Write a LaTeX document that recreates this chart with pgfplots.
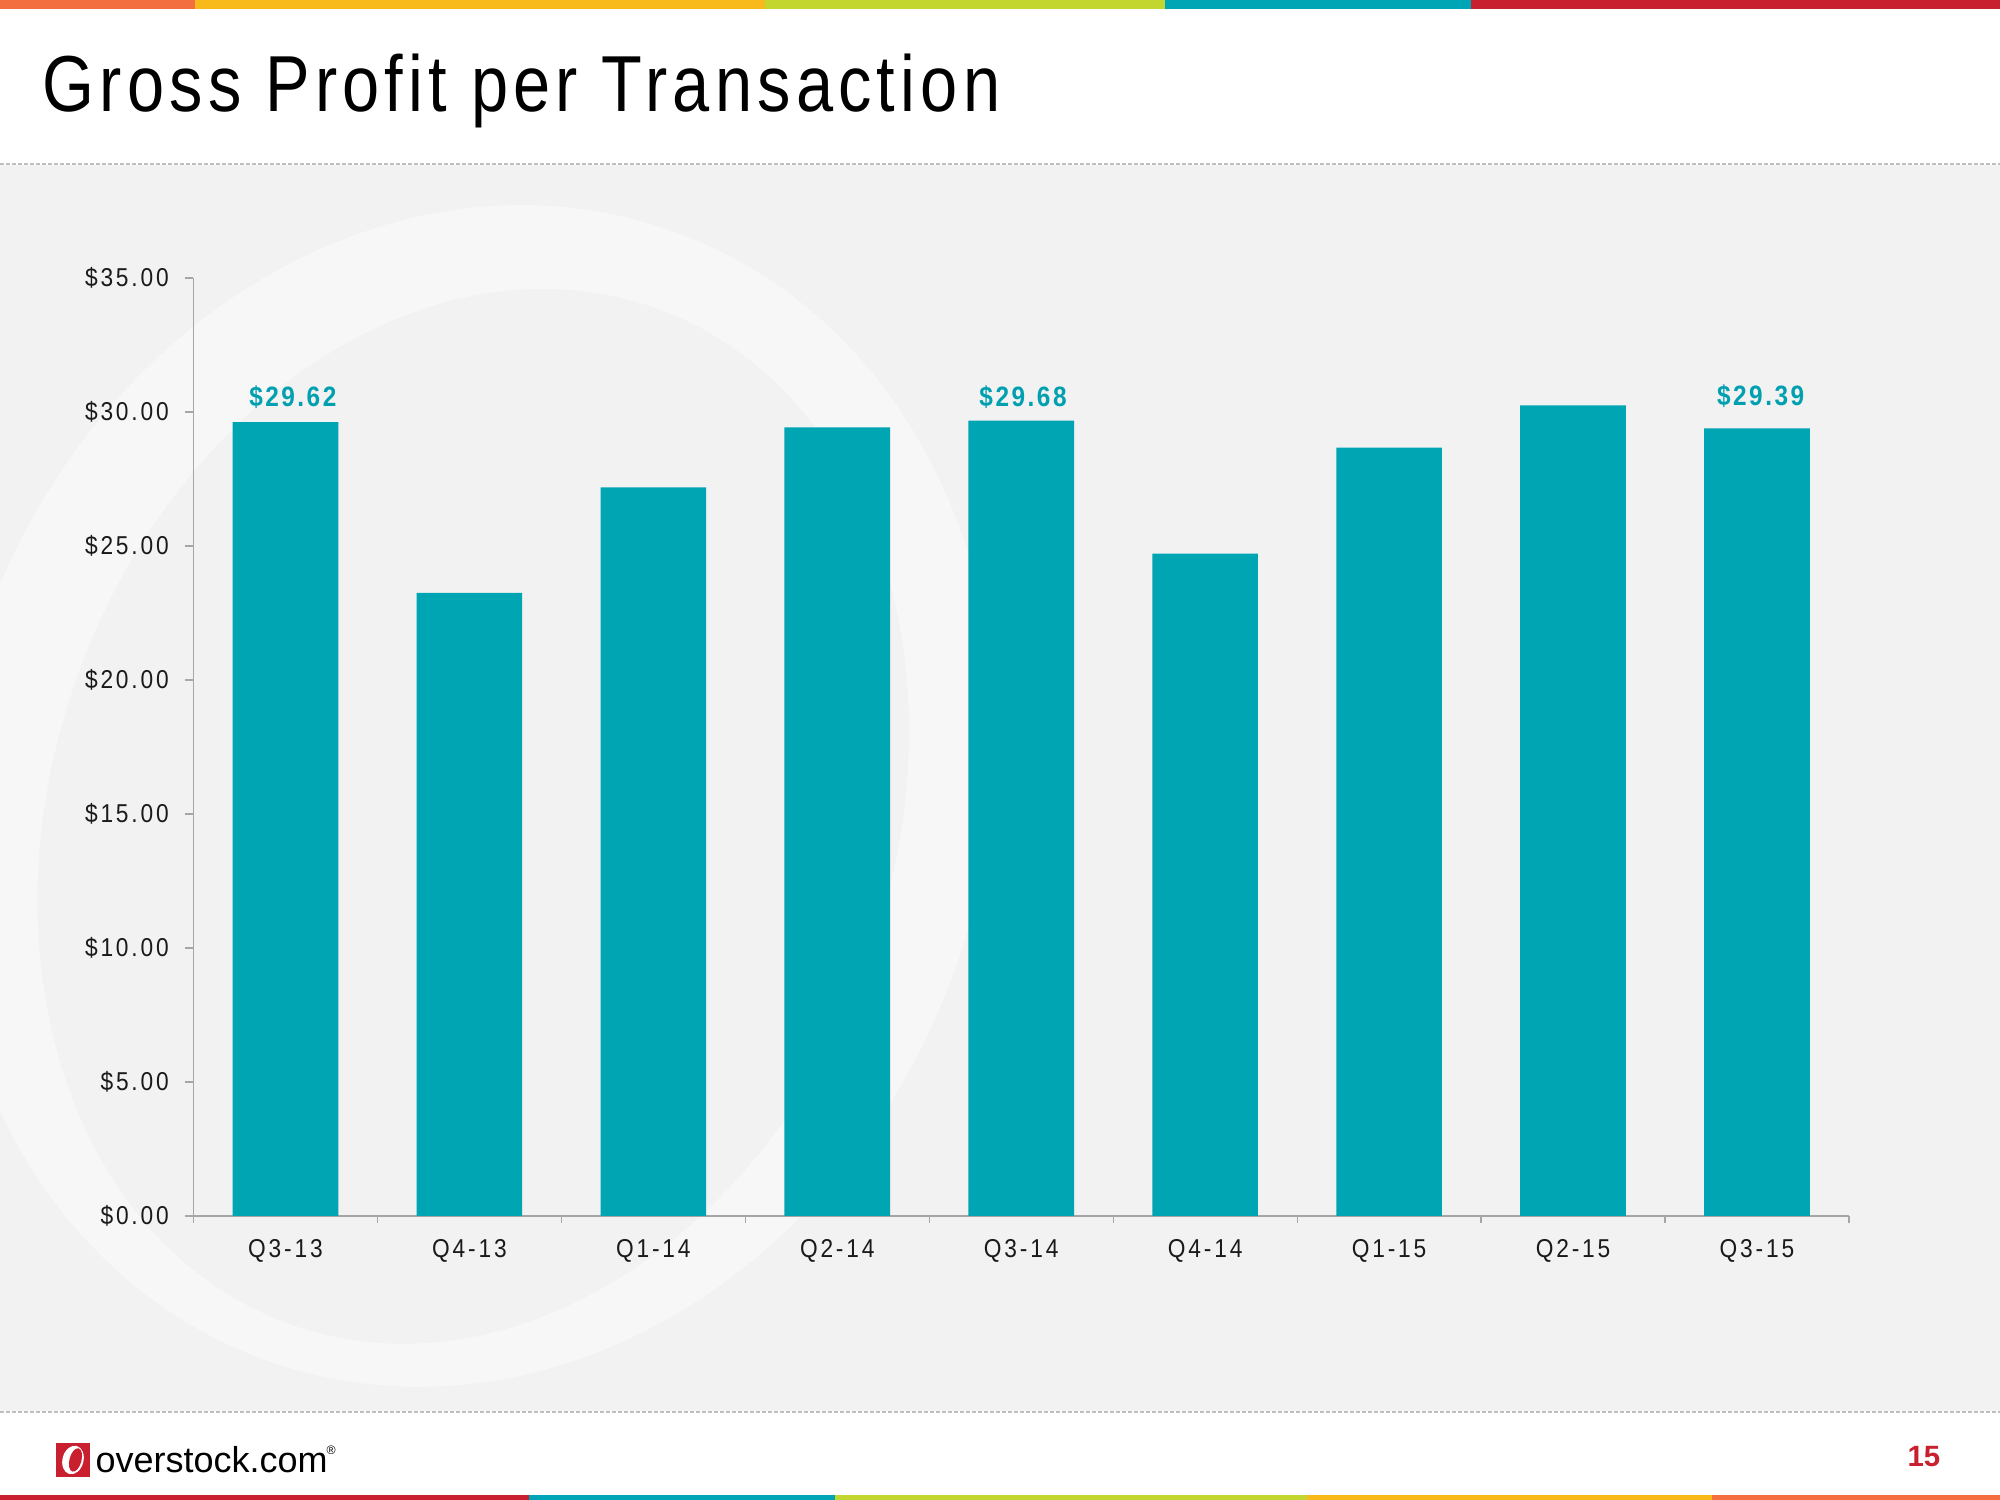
\documentclass[border=0pt]{standalone}
\usepackage{pgfplots}
\pgfplotsset{compat=1.18}
\usepackage{fontspec}
\setmainfont{Liberation Sans}
\newfontfamily\titlefont[FakeStretch=0.84,LetterSpace=6.6]{Liberation Sans}
\newfontfamily\tickfamily[FakeStretch=0.88,LetterSpace=11]{Liberation Sans}
\newfontfamily\lblfamily[FakeStretch=0.87,LetterSpace=9]{Liberation Sans}
\definecolor{bggray}{RGB}{242,242,242}
\definecolor{wmgray}{RGB}{247,247,247}
\definecolor{dashcol}{RGB}{190,190,190}
\definecolor{barteal}{RGB}{0,165,180}
\definecolor{lblteal}{RGB}{0,160,176}
\definecolor{axisgray}{RGB}{166,166,166}
\definecolor{txtdark}{RGB}{26,26,26}
\definecolor{corange}{RGB}{243,111,63}
\definecolor{cyellow}{RGB}{248,185,26}
\definecolor{clime}{RGB}{195,213,47}
\definecolor{cteal}{RGB}{0,165,181}
\definecolor{cred}{RGB}{201,32,47}
\begin{document}
\begin{tikzpicture}[x=0.1mm,y=0.1mm]
\path[use as bounding box] (0,0) rectangle (2000,1500);
\fill[white] (0,0) rectangle (2000,1500);
\fill[bggray] (0,89) rectangle (2000,1335);
\begin{scope}
\clip (0,89) rectangle (2000,1335);
\fill[wmgray, even odd rule, rotate around={-20:(470,704)}] (470,704) ellipse (515 and 600) (480,686) ellipse (420 and 540);
\end{scope}
\draw[dashcol, line width=0.15mm, dash pattern=on 0.4mm off 0.2mm] (0,1336) -- (2000,1336);
\draw[dashcol, line width=0.15mm, dash pattern=on 0.4mm off 0.2mm] (0,88) -- (2000,88);
% top bar
\fill[corange] (0,1491) rectangle (195,1500);
\fill[cyellow] (195,1491) rectangle (765,1500);
\fill[clime] (765,1491) rectangle (1165,1500);
\fill[cteal] (1165,1491) rectangle (1471,1500);
\fill[cred] (1471,1491) rectangle (2000,1500);
% bottom bar
\fill[cred] (0,0) rectangle (529,5);
\fill[cteal] (529,0) rectangle (835,5);
\fill[clime] (835,0) rectangle (1307,5);
\fill[cyellow] (1307,0) rectangle (1712,5);
\fill[corange] (1712,0) rectangle (2000,5);
% title
\node[anchor=base west, inner sep=0pt, font=\titlefont\fontsize{22.6}{26}\selectfont] at (42,1388) {Gross Profit per Transaction};
% chart
\begin{axis}[
  at={(19.35mm,28.4mm)}, anchor=south west,
  scale only axis, width=165.55mm, height=93.8mm,
  xmin=-0.5, xmax=8.5, ymin=0, ymax=35,
  axis lines*=left,
  axis line style={draw=axisgray, line width=0.14mm},
  ytick={0,5,...,35},
  yticklabels={\$0.00,\$5.00,\$10.00,\$15.00,\$20.00,\$25.00,\$30.00,\$35.00},
  xtick={0,...,8},
  xticklabels={Q3-13,Q4-13,Q1-14,Q2-14,Q3-14,Q4-14,Q1-15,Q2-15,Q3-15},
  minor xtick={-0.5,0.5,...,8.5},
  tick align=outside,
  major tick length=0.8mm,
  minor tick length=0.7mm,
  every major x tick/.append style={draw=none},
  every minor x tick/.append style={draw=axisgray, line width=0.12mm},
  every major y tick/.append style={draw=axisgray, line width=0.12mm},
  tick label style={font=\tickfamily\fontsize{7.35}{8}\selectfont, text=txtdark},
  yticklabel style={anchor=east, inner sep=0pt, xshift=-1.6mm},
  xticklabel style={anchor=north, inner sep=0pt, yshift=-1.45mm},
  clip=false,
]
\addplot[ybar, bar width=10.56mm, fill=barteal, draw=none] coordinates {
  (0,29.62) (1,23.25) (2,27.19) (3,29.43) (4,29.68) (5,24.72) (6,28.67) (7,30.25) (8,29.39)};
\node[anchor=base, inner sep=0pt, font=\lblfamily\bfseries\fontsize{7.97}{9}\selectfont, text=lblteal] at (axis cs:0.04,30.19) {\$29.62};
\node[anchor=base, inner sep=0pt, font=\lblfamily\bfseries\fontsize{7.97}{9}\selectfont, text=lblteal] at (axis cs:4.01,30.22) {\$29.68};
\node[anchor=base, inner sep=0pt, font=\lblfamily\bfseries\fontsize{7.97}{9}\selectfont, text=lblteal] at (axis cs:8.02,30.26) {\$29.39};
\end{axis}
% logo
\fill[cred] (56,23) rectangle (90,57);
\fill[white, rotate around={-15:(73,40)}] (73,40) ellipse (10.5 and 14.5);
\fill[cred, rotate around={-15:(75.5,40)}] (75.5,40) ellipse (6 and 12);
\node[anchor=base west, inner sep=0pt, font=\fontsize{10.24}{12}\selectfont] at (95,27) {overstock.com};
\node[anchor=north west, inner sep=0pt, font=\fontsize{3.5}{4}\selectfont] at (326,55) {®};
% page number
\node[anchor=base east, inner sep=0pt, font=\bfseries\fontsize{8.35}{10}\selectfont, text=cred] at (1941,33) {15};
\end{tikzpicture}
\end{document}
